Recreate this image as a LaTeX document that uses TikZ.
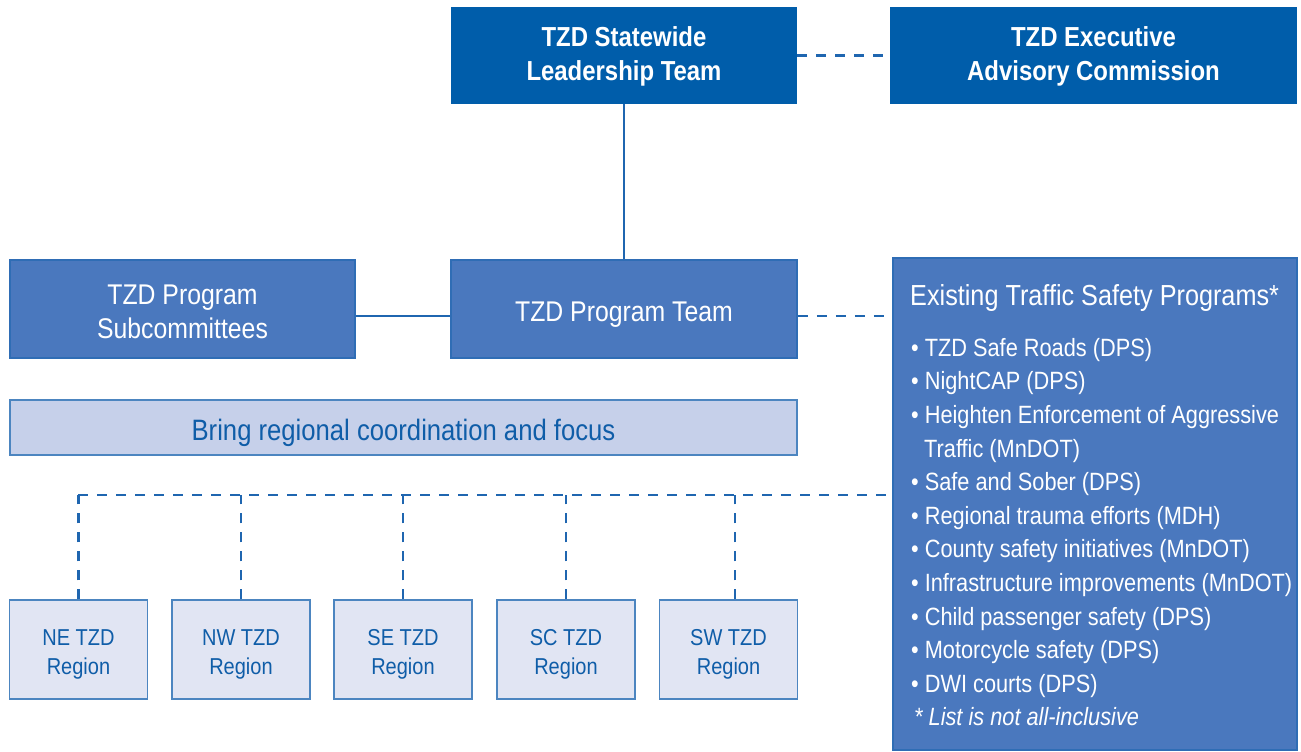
\documentclass[tikz,border=0pt]{standalone}
\usepackage{fontspec}
\setmainfont{Liberation Sans}[FakeStretch=0.87]
\usetikzlibrary{positioning}

\definecolor{tzddark}{HTML}{005DAA}
\definecolor{tzdmid}{HTML}{4A78BE}
\definecolor{tzdmidline}{HTML}{2F6DB5}
\definecolor{tzdband}{HTML}{C6D0EA}
\definecolor{tzdregion}{HTML}{E1E5F3}
\definecolor{tzdline}{HTML}{1F66B0}
\definecolor{tzdtext}{HTML}{0F5DA8}

\tikzset{
  lowered/.style={execute at begin node={\rule{0pt}{#1}}},
  topbox/.style={fill=tzddark,text=white,align=center,inner sep=0pt,
    font=\bfseries\fontsize{27.5}{34}\selectfont},
  teambox/.style={fill=tzdmid,draw=tzdmidline,line width=1.5pt,text=white,
    align=center,inner sep=0pt,font=\fontsize{28.5}{34}\selectfont},
  bandbox/.style={fill=tzdband,draw=tzdline!80,line width=1.5pt,text=tzdtext,
    inner sep=0pt,lowered=31.5pt,font=\fontsize{29.5}{34}\selectfont},
  regionbox/.style={fill=tzdregion,draw=tzdline!80,line width=1.5pt,text=tzdtext,
    align=center,inner sep=0pt,minimum width=138pt,minimum height=99pt,
    font=\fontsize{23}{29}\selectfont},
  solidline/.style={tzdline,line width=2.2pt},
  dashline/.style={tzdline,line width=2.2pt,dash pattern=on 10pt off 9pt},
}
\newcommand{\itm}[1]{\textbullet\hspace{6pt}#1}
\newcommand{\rgn}[1]{\rule{0pt}{26.5pt}#1 TZD\\Region}

\begin{document}
\begin{tikzpicture}[x=1pt,y=-1pt]
\useasboundingbox[fill=white] (0,0) rectangle (1301,752);
% top row
\node[topbox,minimum width=346pt,minimum height=97pt](lead) at (624,55.5){\rule{0pt}{22pt}TZD Statewide\\Leadership Team};
\node[topbox,minimum width=407pt,minimum height=97pt](exec) at (1093.5,55.5){\rule{0pt}{22pt}TZD Executive\\Advisory Commission};
% middle row
\node[teambox,minimum width=345pt,minimum height=98pt](subc) at (182.5,309){\rule{0pt}{24.5pt}TZD Program\\Subcommittees};
\node[teambox,minimum width=346pt,minimum height=98pt,lowered=30.5pt](team) at (624,309){TZD Program Team};
\node[teambox,minimum width=404pt,minimum height=492pt](prog) at (1095,504){};
\node[anchor=base west,inner sep=0pt,text=white,font=\fontsize{29}{34}\selectfont](progtitle) at (910,305){Existing Traffic Safety Programs*};
\node[anchor=north west,inner sep=0pt,text=white,align=left,font=\fontsize{25}{33.6}\selectfont](proglist) at (911,338){%
\itm{TZD Safe Roads (DPS)}\\
\itm{NightCAP (DPS)}\\
\itm{Heighten Enforcement of Aggressive}\\
\hspace*{13pt}Traffic (MnDOT)\\
\itm{Safe and Sober (DPS)}\\
\itm{Regional trauma efforts (MDH)}\\
\itm{County safety initiatives (MnDOT)}\\
\itm{Infrastructure improvements (MnDOT)}\\
\itm{Child passenger safety (DPS)}\\
\itm{Motorcycle safety (DPS)}\\
\itm{DWI courts (DPS)}\\
\hspace*{3pt}\textit{* List is not all-inclusive}};
% band
\node[bandbox,minimum width=787pt,minimum height=55pt](focus) at (403.5,427.5){Bring regional coordination and focus};
% regions
\node[regionbox](ne) at (78.5,649.5){\rgn{NE}};
\node[regionbox](nw) at (241,649.5){\rgn{NW}};
\node[regionbox](se) at (403,649.5){\rgn{SE}};
\node[regionbox](sc) at (566,649.5){\rgn{SC}};
\node[regionbox](sw) at (728.5,649.5){\rgn{SW}};
% connectors
\draw[dashline](lead.east)--(exec.west);
\draw[solidline](lead.south)--(team.north);
\draw[solidline]([yshift=-7pt]subc.east)--([yshift=-7pt]team.west);
\coordinate(teamout) at ([yshift=-7pt]team.east);
\draw[dashline](teamout)--(teamout -| prog.west);
\coordinate(trunk) at (78,495);
\draw[dashline](trunk)--(trunk -| prog.west);
\foreach \r/\dx in {ne/0,nw/0,se/0,sc/0,sw/6.5}{
  \draw[dashline]([xshift=\dx pt]\r.north)--([xshift=\dx pt]\r.north |- trunk);
}
\end{tikzpicture}
\end{document}
